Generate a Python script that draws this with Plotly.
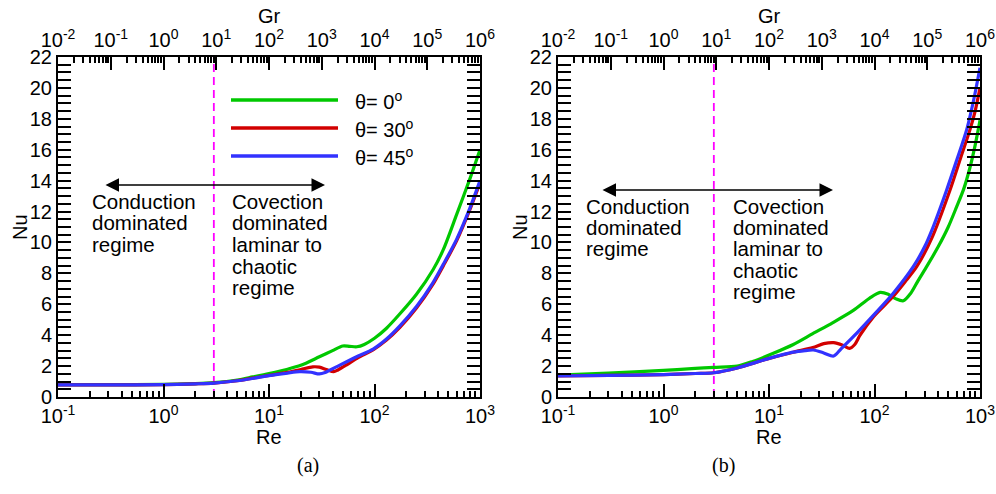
import plotly.graph_objects as go

# ---------------- data: panel (a) ----------------
re_a_0 = [0.1, 0.3, 1, 2, 3, 5, 7, 10, 15, 20, 30, 40, 50, 58, 68, 80, 100, 130, 175, 250, 360, 450, 600, 800, 1000]
nu_a_0 = [0.80, 0.80, 0.82, 0.87, 0.93, 1.10, 1.30, 1.52, 1.80, 2.05, 2.60, 3.00, 3.30, 3.28, 3.25, 3.40, 3.80, 4.45, 5.40, 6.65, 8.25, 9.55, 11.80, 14.10, 16.00]

re_a_30 = [0.1, 0.3, 1, 2, 3, 5, 7, 10, 15, 20, 26, 30, 35, 41, 45, 55, 70, 97, 130, 174, 250, 355, 450, 600, 800, 1000]
nu_a_30 = [0.78, 0.78, 0.80, 0.85, 0.90, 1.05, 1.22, 1.40, 1.60, 1.78, 1.95, 1.93, 1.78, 1.64, 1.75, 2.10, 2.55, 3.05, 3.68, 4.50, 5.75, 7.25, 8.50, 10.10, 12.10, 13.85]

re_a_45 = [0.1, 0.3, 1, 2, 3, 5, 7, 10, 15, 19.5, 25, 30, 34, 38, 45, 55, 70, 97, 130, 174, 250, 355, 450, 600, 800, 1000]
nu_a_45 = [0.78, 0.78, 0.80, 0.85, 0.90, 1.05, 1.20, 1.38, 1.55, 1.64, 1.60, 1.49, 1.58, 1.75, 2.00, 2.30, 2.65, 3.10, 3.75, 4.60, 5.85, 7.35, 8.60, 10.20, 12.20, 14.00]

# ---------------- data: panel (b) ----------------
re_b_0 = [0.1, 0.3, 1, 2, 3, 5, 7, 11, 17, 26, 40, 63, 90, 113, 135, 160, 188, 220, 260, 313, 400, 500, 600, 700, 800, 900, 1000]
nu_b_0 = [1.42, 1.55, 1.72, 1.85, 1.92, 2.00, 2.30, 2.83, 3.40, 4.10, 4.80, 5.60, 6.40, 6.77, 6.65, 6.35, 6.23, 6.70, 7.55, 8.45, 9.70, 11.00, 12.30, 13.45, 14.80, 16.30, 17.90]

re_b_30 = [0.1, 0.3, 1, 2, 3, 5, 9.5, 17, 26, 33, 41, 50, 58, 65, 73, 98, 150, 200, 251, 350, 520, 650, 804, 900, 1000]
nu_b_30 = [1.36, 1.40, 1.45, 1.52, 1.57, 1.88, 2.45, 2.90, 3.20, 3.45, 3.52, 3.35, 3.15, 3.40, 4.00, 5.20, 6.50, 7.55, 8.43, 10.30, 13.40, 15.40, 17.30, 18.50, 20.00]

re_b_45 = [0.1, 0.3, 1, 2, 3, 5, 9.5, 17, 22, 26.4, 33, 41, 48, 63, 98, 150, 233, 300, 350, 483, 600, 748, 870, 1000]
nu_b_45 = [1.36, 1.40, 1.45, 1.52, 1.57, 1.88, 2.45, 2.90, 3.00, 3.04, 2.85, 2.65, 3.10, 3.90, 5.30, 6.70, 8.43, 9.75, 10.80, 13.40, 15.30, 17.30, 19.20, 21.30]

re_divide = [3, 3]
nu_divide = [0, 22]

legend_labels = ["θ= 0<sup>o</sup>", "θ= 30<sup>o</sup>", "θ= 45<sup>o</sup>"]
colors = ["#00C800", "#D20000", "#3232FF"]

re_ticks = [0.1, 1, 10, 100, 1000]
re_ticktext = ["10<sup>-1</sup>", "10<sup>0</sup>", "10<sup>1</sup>", "10<sup>2</sup>", "10<sup>3</sup>"]
gr_ticks = [1e-2, 1e-1, 1, 10, 1e2, 1e3, 1e4, 1e5, 1e6]
gr_ticktext = ["10<sup>-2</sup>", "10<sup>-1</sup>", "10<sup>0</sup>", "10<sup>1</sup>",
               "10<sup>2</sup>", "10<sup>3</sup>", "10<sup>4</sup>", "10<sup>5</sup>", "10<sup>6</sup>"]
re_minor = [m * 10.0 ** e for e in range(-1, 3) for m in range(2, 10)]
gr_minor = [m * 10.0 ** e for e in range(-2, 6) for m in range(2, 10)]

W, H = 996, 494
FONT = "Liberation Sans, Arial, sans-serif"


def px(x):
    return x / W


def py(y):
    return 1 - y / H


fig = go.Figure()

panels = [
    ("x", "y", "x3", [(re_a_0, nu_a_0), (re_a_30, nu_a_30), (re_a_45, nu_a_45)]),
    ("x2", "y2", "x4", [(re_b_0, nu_b_0), (re_b_30, nu_b_30), (re_b_45, nu_b_45)]),
]
for xa, ya, xtop, series in panels:
    # invisible trace so that the top Gr axis is drawn
    fig.add_trace(go.Scatter(x=[gr_ticks[0], gr_ticks[-1]], y=nu_divide, mode="lines",
                             xaxis=xtop, yaxis=ya, line=dict(width=0, color="rgba(0,0,0,0)"),
                             showlegend=False, hoverinfo="skip"))
    fig.add_trace(go.Scatter(x=re_divide, y=nu_divide, mode="lines", xaxis=xa, yaxis=ya,
                             line=dict(color="#FF00FF", width=1.8, dash="8px,5px"),
                             showlegend=False, hoverinfo="skip"))
    for (xs, ys), c, name in zip(series, colors, legend_labels):
        fig.add_trace(go.Scatter(x=xs, y=ys, mode="lines", xaxis=xa, yaxis=ya, name=name,
                                 line=dict(color=c, width=3.2, shape="spline", smoothing=0.8),
                                 showlegend=False))

tickfont = dict(family=FONT, size=20, color="black")
titlefont = dict(family=FONT, size=20, color="black")
common_x = dict(type="log", showgrid=False, zeroline=False, showline=True, linewidth=2,
                linecolor="black", ticks="inside", ticklen=13, tickwidth=2, tickcolor="black",
                tickfont=tickfont, tickmode="array", automargin=False)
common_y = dict(range=[0, 22], showgrid=False, zeroline=False, showline=True, linewidth=2,
                linecolor="black", ticks="inside", ticklen=13, tickwidth=2, tickcolor="black",
                tickfont=tickfont, dtick=2, tick0=0, mirror="allticks", automargin=False,
                minor=dict(ticks="inside", ticklen=6, tickwidth=1.5, tickcolor="black", dtick=0.5, tick0=0))

dom_y = [py(397), py(57)]

bottom = dict(range=[-1, 3], tickvals=re_ticks, ticktext=re_ticktext,
              minor=dict(ticks="inside", ticklen=6, tickwidth=1.5, tickcolor="black",
                         tickmode="array", tickvals=re_minor))
top = dict(range=[-2, 6], tickvals=gr_ticks, ticktext=gr_ticktext, side="top",
           minor=dict(ticks="inside", ticklen=6, tickwidth=1.5, tickcolor="black",
                      tickmode="array", tickvals=gr_minor))

fig.update_layout(
    width=W, height=H,
    margin=dict(l=0, r=0, t=0, b=0, autoexpand=False),
    paper_bgcolor="white", plot_bgcolor="white",
    xaxis=dict(**common_x, **bottom, domain=[px(58), px(480)], anchor="y"),
    yaxis=dict(**common_y, domain=dom_y, anchor="x"),
    xaxis2=dict(**common_x, **bottom, domain=[px(558), px(980)], anchor="y2"),
    yaxis2=dict(**common_y, domain=dom_y, anchor="x2"),
    xaxis3=dict(**common_x, **top, overlaying="x", anchor="y"),
    xaxis4=dict(**common_x, **top, overlaying="x2", anchor="y2"),
    showlegend=False,
)

shapes = []
annotations = []

# axis titles
for off in (0, 500):
    annotations.append(dict(xref="paper", yref="paper", x=px(269 + off), y=py(437), text="Re",
                            showarrow=False, xanchor="center", yanchor="middle", font=titlefont))
    annotations.append(dict(xref="paper", yref="paper", x=px(269 + off), y=py(16), text="Gr",
                            showarrow=False, xanchor="center", yanchor="middle", font=titlefont))
    annotations.append(dict(xref="paper", yref="paper", x=px(20 + off), y=py(227), text="Nu",
                            textangle=-90, showarrow=False, xanchor="center", yanchor="middle",
                            font=titlefont))

# legend (panel a)
for i, (c, lab) in enumerate(zip(colors, legend_labels)):
    yy = 100 + 28 * i
    shapes.append(dict(type="line", xref="paper", yref="paper", x0=px(231), x1=px(338),
                       y0=py(yy), y1=py(yy), line=dict(color=c, width=3.5)))
    annotations.append(dict(xref="paper", yref="paper", x=px(353), y=py(yy), text=lab,
                            showarrow=False, xanchor="left", yanchor="middle",
                            font=dict(family=FONT, size=20, color="black")))

textfont = dict(family=FONT, size=20.5, color="black")
left_lines = ["Conduction", "dominated", "regime"]
right_lines = ["Covection", "dominated", "laminar to", "chaotic", "regime"]
# (x_arrow0, x_arrow1, y_arrow, x_left_text, x_right_text, y_first, spacing)
regions = [(104, 325, 185, 90, 230, 201, 21.7), (601, 833, 190, 584, 731, 206, 21.4)]
for xa0, xa1, ya, xl, xr, y0, dy in regions:
    annotations.append(dict(xref="paper", yref="paper", x=px(xa1), y=py(ya), ax=-(xa1 - xa0), ay=0,
                            axref="pixel", ayref="pixel", text="", showarrow=True,
                            arrowhead=2, startarrowhead=2, arrowside="end+start",
                            arrowsize=1.8, arrowwidth=1.5, arrowcolor="black"))
    for k, t in enumerate(left_lines):
        annotations.append(dict(xref="paper", yref="paper", x=px(xl), y=py(y0 + dy * k), text=t,
                                showarrow=False, xanchor="left", yanchor="middle", font=textfont))
    for k, t in enumerate(right_lines):
        annotations.append(dict(xref="paper", yref="paper", x=px(xr), y=py(y0 + dy * k), text=t,
                                showarrow=False, xanchor="left", yanchor="middle", font=textfont))

serif = dict(family="Liberation Serif, Times New Roman, serif", size=20, color="black")
annotations.append(dict(xref="paper", yref="paper", x=px(308), y=py(465), text="(a)", showarrow=False,
                        xanchor="center", yanchor="middle", font=serif))
annotations.append(dict(xref="paper", yref="paper", x=px(723), y=py(465), text="(b)", showarrow=False,
                        xanchor="center", yanchor="middle", font=serif))

fig.update_layout(shapes=shapes, annotations=annotations)
fig.write_html("out.html")
